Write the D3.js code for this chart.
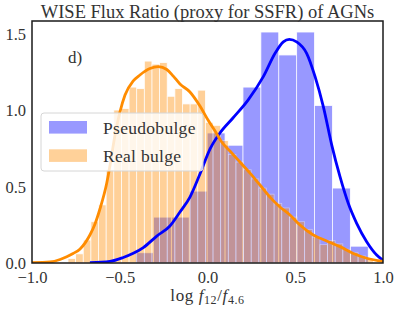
<!DOCTYPE html>
<html>
<head>
<meta charset="utf-8">
<script src="https://cdn.jsdelivr.net/npm/d3@7"></script>
<style>
  body { margin: 0; background: #fff; }
  svg { display: block; font-family: "Liberation Serif", "DejaVu Serif", serif; }
</style>
</head>
<body>
<div id="chart"></div>
<script>
// Pseudobulge histogram (density), 13 equal bins
const pseudoStart = -0.410;
const pseudoBinWidth = 0.102;
const pseudoHeights = [0.067, 0.30, 0.30, 0.47, 0.85, 0.77, 1.15, 1.51, 1.36, 1.51, 1.03, 0.49, 0.11];

// Real bulge histogram (density), 40 equal bins
const realStart = -0.795;
const realBinWidth = 0.0435;
const realHeights = [
  0.03, 0.06, 0.15, 0.27, 0.38, 0.61, 1.00, 1.01, 1.15, 1.14,
  1.32, 1.30, 1.31, 1.09, 1.14, 1.04, 1.04, 1.13, 0.92, 0.90,
  0.80, 0.71, 0.66, 0.61, 0.55, 0.49, 0.45, 0.39, 0.36, 0.30,
  0.27, 0.22, 0.17, 0.12, 0.146, 0.125, 0.09, 0.07, 0.046, 0.03
];

// KDE curves
const pseudoKdeX = [-0.670, -0.556, -0.480, -0.423, -0.366, -0.289, -0.214, -0.157, -0.100, -0.043,
  0.014, 0.071, 0.145, 0.231, 0.318, 0.385, 0.432, 0.466, 0.508, 0.565,
  0.613, 0.660, 0.708, 0.755, 0.802, 0.850, 0.907, 0.964, 1.000];
const pseudoKdeY = [0.003, 0.011, 0.036, 0.063, 0.101, 0.176, 0.242, 0.333, 0.431, 0.582,
  0.745, 0.850, 0.948, 1.065, 1.218, 1.371, 1.446, 1.462, 1.446, 1.371,
  1.218, 1.022, 0.771, 0.564, 0.390, 0.259, 0.139, 0.052, 0.018];

const realKdeX = [-1.000, -0.897, -0.840, -0.802, -0.766, -0.726, -0.670, -0.641, -0.613, -0.574,
  -0.556, -0.527, -0.499, -0.470, -0.423, -0.385, -0.328, -0.280, -0.232, -0.195,
  -0.157, -0.100, -0.043, 0.003, 0.043, 0.081, 0.128, 0.185, 0.242, 0.299,
  0.356, 0.413, 0.470, 0.527, 0.603, 0.679, 0.755, 0.831, 0.907, 1.000];
const realKdeY = [0.002, 0.007, 0.023, 0.041, 0.062, 0.092, 0.183, 0.255, 0.353, 0.523,
  0.634, 0.837, 0.987, 1.098, 1.190, 1.229, 1.271, 1.284, 1.265, 1.222,
  1.170, 1.118, 1.026, 0.935, 0.863, 0.791, 0.732, 0.660, 0.588, 0.510,
  0.431, 0.366, 0.314, 0.248, 0.183, 0.144, 0.107, 0.062, 0.031, 0.010];

const xTicks = [-1.0, -0.5, 0.0, 0.5, 1.0];
const yTicks = [0.0, 0.5, 1.0, 1.5];
const seriesNames = ['Pseudobulge', 'Real bulge'];

const width = 399, height = 311;
const margin = { top: 21, right: 16, bottom: 48, left: 32 };
const w = width - margin.left - margin.right;
const h = height - margin.top - margin.bottom;

const blue = '#0000ff', orange = '#ff8c00';

const svg = d3.select('#chart').append('svg')
  .attr('width', width)
  .attr('height', height);

const g = svg.append('g')
  .attr('transform', `translate(${margin.left},${margin.top})`);

const x = d3.scaleLinear().domain([-1, 1]).range([0, w]);
const y = d3.scaleLinear().domain([0, 1.582]).range([h, 0]);

svg.append('defs').append('clipPath').attr('id', 'clip')
  .append('rect').attr('width', w).attr('height', h);

const plot = g.append('g').attr('clip-path', 'url(#clip)');

function bins(start, bw, heights) {
  return heights.map((v, i) => ({ x0: start + i * bw, x1: start + (i + 1) * bw, v }));
}

function drawHist(data, color) {
  plot.append('g').selectAll('rect')
    .data(data)
    .join('rect')
    .attr('x', d => x(d.x0))
    .attr('y', d => y(d.v))
    .attr('width', d => x(d.x1) - x(d.x0))
    .attr('height', d => y(0) - y(d.v))
    .attr('fill', color)
    .attr('stroke', '#fff')
    .attr('stroke-width', 0.8)
    .attr('opacity', 0.4);
}

drawHist(bins(pseudoStart, pseudoBinWidth, pseudoHeights), blue);
drawHist(bins(realStart, realBinWidth, realHeights), orange);

const line = d3.line()
  .x(d => x(d[0]))
  .y(d => y(d[1]))
  .curve(d3.curveMonotoneX);

plot.append('path')
  .datum(d3.zip(pseudoKdeX, pseudoKdeY))
  .attr('fill', 'none')
  .attr('stroke', blue)
  .attr('stroke-width', 2.8)
  .attr('d', line);

plot.append('path')
  .datum(d3.zip(realKdeX, realKdeY))
  .attr('fill', 'none')
  .attr('stroke', orange)
  .attr('stroke-width', 2.8)
  .attr('d', line);

// axes: no tick marks, labels only
const xAxis = g.append('g')
  .attr('transform', `translate(0,${h})`)
  .call(d3.axisBottom(x).tickValues(xTicks).tickSize(0).tickPadding(8)
    .tickFormat(d => d3.format('.1f')(d).replace('-', '\u2212')));
const yAxis = g.append('g')
  .call(d3.axisLeft(y).tickValues(yTicks).tickSize(0).tickPadding(6)
    .tickFormat(d3.format('.1f')));

[xAxis, yAxis].forEach(a => {
  a.select('.domain').remove();
  a.selectAll('text')
    .attr('fill', '#333')
    .style('font-family', '"Liberation Serif", serif')
    .style('font-size', '16.5px');
});
yAxis.selectAll('text').attr('dy', '0.35em');

// frame
g.append('rect')
  .attr('width', w).attr('height', h)
  .attr('fill', 'none')
  .attr('stroke', '#1a1a1a')
  .attr('stroke-width', 1.5);

// title
svg.append('text')
  .attr('x', margin.left + w / 2)
  .attr('y', 18)
  .attr('text-anchor', 'middle')
  .attr('fill', '#333')
  .style('font-size', '18.5px')
  .text('WISE Flux Ratio (proxy for SSFR) of AGNs');

// x label
const xl = svg.append('text')
  .attr('x', margin.left + w / 2)
  .attr('y', 301)
  .attr('text-anchor', 'middle')
  .attr('fill', '#333')
  .style('font-size', '17px')
  .style('letter-spacing', '0.6px');
xl.append('tspan').text('log ');
xl.append('tspan').attr('font-style', 'italic').text('f');
xl.append('tspan').attr('font-size', '12px').attr('dy', 3).text('12');
xl.append('tspan').attr('dy', -3).text('/');
xl.append('tspan').attr('font-style', 'italic').text('f');
xl.append('tspan').attr('font-size', '12px').attr('dy', 3).text('4.6');

// panel label
g.append('text')
  .attr('x', 36)
  .attr('y', 42)
  .attr('fill', '#333')
  .style('font-size', '17px')
  .text('d)');

// legend
const legend = g.append('g').attr('transform', 'translate(9,92)');
legend.append('rect')
  .attr('width', 162).attr('height', 58)
  .attr('rx', 3)
  .attr('fill', '#fff').attr('fill-opacity', 0.8)
  .attr('stroke', '#d6d6d6').attr('stroke-width', 1);

const items = legend.selectAll('g.item')
  .data(seriesNames)
  .join('g')
  .attr('class', 'item')
  .attr('transform', (d, i) => `translate(8,${8 + i * 28.3})`);
items.append('rect')
  .attr('width', 38).attr('height', 12.6)
  .attr('fill', (d, i) => i === 0 ? blue : orange)
  .attr('opacity', 0.4);
items.append('text')
  .attr('x', 54).attr('y', 12.6)
  .attr('fill', '#333')
  .style('font-size', '17.5px')
  .style('letter-spacing', '0.3px')
  .text(d => d);
</script>
</body>
</html>
